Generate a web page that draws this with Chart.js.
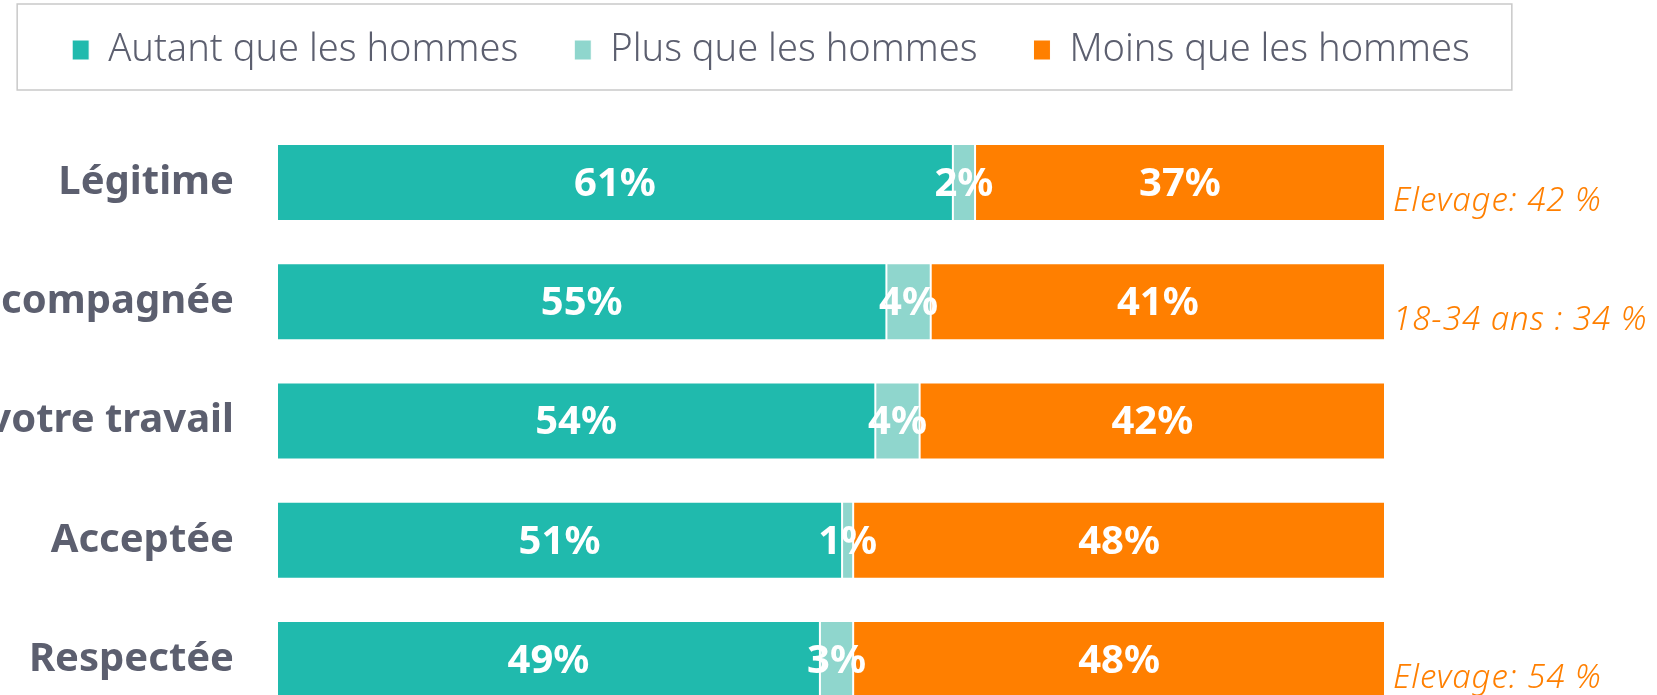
<!DOCTYPE html>
<html>
<head>
<meta charset="utf-8">
<script src="https://cdn.jsdelivr.net/npm/chart.js@4"></script>
<style>
    html, body { margin: 0; padding: 0; overflow: hidden; background: #fff; width: 1657px; height: 695px; }
    canvas { display: block; }
</style>
</head>
<body>
<canvas id="chart" width="1657" height="719"></canvas>
<script>
var categories = ['Légitime', 'Accompagnée', 'Reconnue dans votre travail', 'Acceptée', 'Respectée'];
var autant = [61, 55, 54, 51, 49];
var plus = [2, 4, 4, 1, 3];
var moins = [37, 41, 42, 48, 48];
var notes = ['Elevage: 42 %', '18-34 ans : 34 %', '', '', 'Elevage: 54 %'];

var grey = '#5c5f6f';
var orange = '#ff7f00';

// white % labels centred on each segment
var valueLabels = {
    id: 'valueLabels',
    afterDatasetsDraw: function (chart) {
        var ctx = chart.ctx;
        ctx.save();
        ctx.fillStyle = '#fff';
        ctx.font = 'bold 40px "Noto Sans"';
        ctx.textAlign = 'center';
        ctx.textBaseline = 'middle';
        chart.data.datasets.forEach(function (ds, i) {
            chart.getDatasetMeta(i).data.forEach(function (bar, j) {
                ctx.fillText(ds.data[j] + '%', (bar.x + bar.base) / 2, bar.y + 2);
            });
        });
        ctx.restore();
    }
};

// orange side notes + frame round the legend
var extras = {
    id: 'extras',
    afterDraw: function (chart) {
        var ctx = chart.ctx;
        var y = chart.scales.y;
        ctx.save();
        ctx.fillStyle = orange;
        ctx.font = 'italic 300 33px "Noto Sans"';
        ctx.letterSpacing = '1px';
        ctx.textAlign = 'left';
        ctx.textBaseline = 'middle';
        notes.forEach(function (n, i) {
            if (n) ctx.fillText(n, chart.chartArea.right + 8, y.getPixelForValue(i) + 19);
        });

        var boxes = chart.legend.legendHitBoxes;
        var first = boxes[0], last = boxes[boxes.length - 1];
        ctx.strokeStyle = '#c9c9c9';
        ctx.lineWidth = 1.5;
        ctx.strokeRect(first.left - 55, 4, (last.left + last.width + 42) - (first.left - 55), 86);
        ctx.restore();
    }
};

var ctx = document.getElementById('chart').getContext('2d');
new Chart(ctx, {
    type: 'bar',
    data: {
        labels: categories,
        datasets: [
            { label: 'Autant que les hommes', data: autant, backgroundColor: '#20baad' },
            { label: 'Plus que les hommes', data: plus, backgroundColor: '#8fd6cd' },
            { label: 'Moins que les hommes', data: moins, backgroundColor: orange }
        ]
    },
    options: {
        indexAxis: 'y',
        responsive: false,
        animation: false,
        devicePixelRatio: 1,
        datasets: {
            bar: {
                categoryPercentage: 0.646,
                barPercentage: 1,
                borderColor: '#fff',
                borderWidth: 1,
                borderSkipped: false
            }
        },
        layout: { padding: { top: -25, left: 0, right: 115, bottom: 0 } },
        plugins: {
            legend: {
                display: true,
                labels: {
                    boxWidth: 17,
                    boxHeight: 20,
                    padding: 56,
                    color: grey,
                    font: { family: 'Noto Sans', size: 38, weight: '300' }
                }
            },
            tooltip: { enabled: false }
        },
        scales: {
            x: {
                stacked: true,
                position: 'top',
                min: 0,
                max: 100,
                grid: { display: false, drawTicks: false },
                border: { display: false },
                ticks: { display: false },
                afterFit: function (scale) { scale.height = 44; }
            },
            y: {
                stacked: true,
                grid: { display: false, drawTicks: false },
                border: { display: false },
                ticks: {
                    padding: 43,
                    color: grey,
                    font: { family: 'Noto Sans', size: 40, weight: 'bold' }
                },
                afterFit: function (scale) {
                    scale.width = 277;
                    scale.paddingTop = 0;
                    scale.paddingBottom = 0;
                }
            },
            // empty right-hand band that leaves room for the notes
            notes: {
                type: 'category',
                position: 'right',
                grid: { display: false, drawTicks: false },
                border: { display: false },
                ticks: { display: false },
                afterFit: function (scale) { scale.width = 157; }
            }
        }
    },
    plugins: [valueLabels, extras]
});
</script>
</body>
</html>
